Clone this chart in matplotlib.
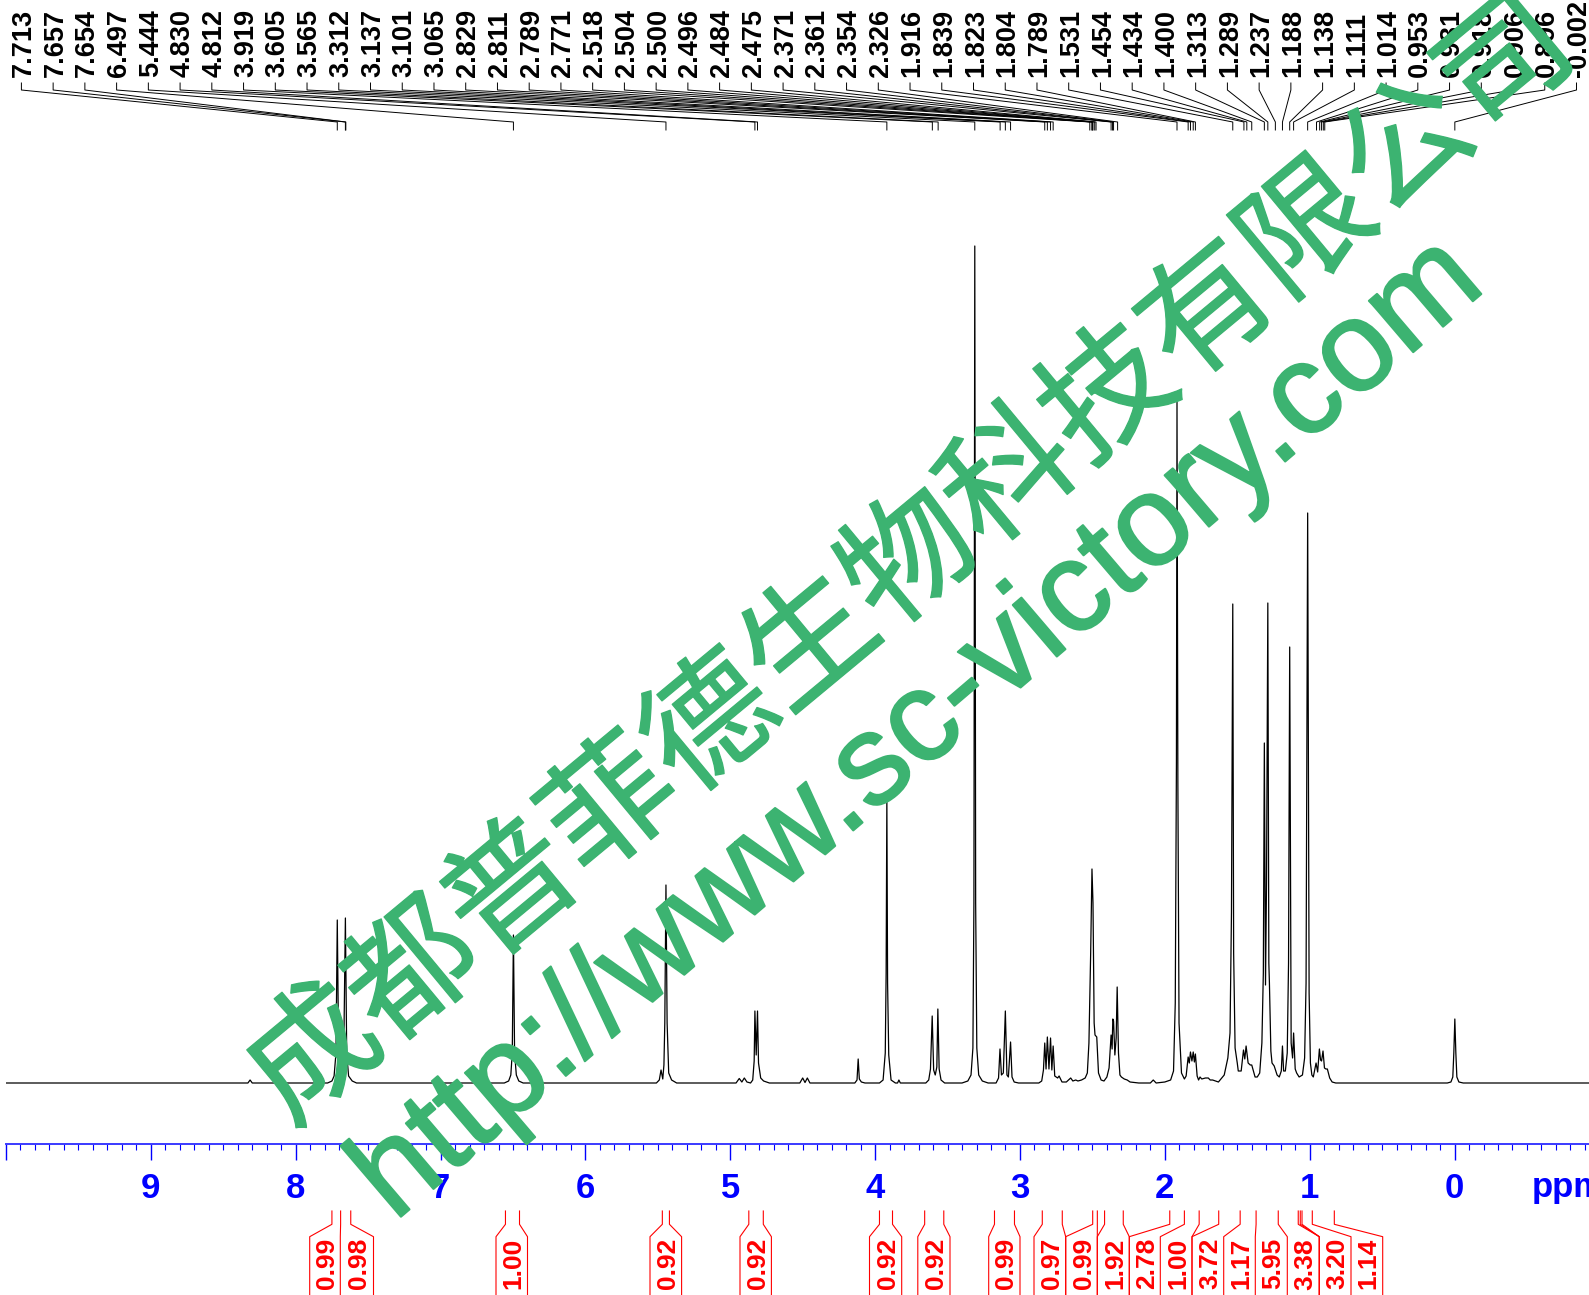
import matplotlib
matplotlib.use("Agg")
import matplotlib.pyplot as plt
import matplotlib.patheffects as pe
import matplotlib.transforms as mtransforms

W, H = 1589, 1295

peak_labels = ["7.713", "7.657", "7.654", "6.497", "5.444", "4.830", "4.812", "3.919", "3.605", "3.565",
               "3.312", "3.137", "3.101", "3.065", "2.829", "2.811", "2.789", "2.771", "2.518", "2.504",
               "2.500", "2.496", "2.484", "2.475", "2.371", "2.361", "2.354", "2.326", "1.916", "1.839",
               "1.823", "1.804", "1.789", "1.531", "1.454", "1.434", "1.400", "1.313", "1.289", "1.237",
               "1.188", "1.138", "1.111", "1.014", "0.953", "0.931", "0.918", "0.906", "0.896", "-0.002"]

# spectrum trace, ppm going downfield to upfield
spectrum_ppm = [10.0, 8.33, 8.315, 8.30, 7.78, 7.75, 7.735, 7.722, 7.713, 7.704, 7.692, 7.68, 7.668, 7.657, 7.648, 7.635,
                7.61, 7.58, 6.56, 6.53, 6.515, 6.505, 6.497, 6.489, 6.477, 6.46, 6.43, 5.51, 5.49, 5.478, 5.466, 5.458,
                5.452, 5.444, 5.436, 5.425, 5.405, 5.37, 4.96, 4.938, 4.92, 4.903, 4.885, 4.86, 4.845, 4.835, 4.83,
                4.821, 4.812, 4.805, 4.79, 4.77, 4.73, 4.52, 4.50, 4.484, 4.468, 4.45, 4.14, 4.125, 4.117, 4.109,
                4.095, 4.07, 3.97, 3.945, 3.93, 3.924, 3.919, 3.914, 3.906, 3.89, 3.86, 3.845, 3.836, 3.826, 3.65,
                3.63, 3.618, 3.606, 3.596, 3.585, 3.574, 3.567, 3.558, 3.545, 3.52, 3.40, 3.36, 3.338, 3.325, 3.318,
                3.312, 3.306, 3.298, 3.285, 3.26, 3.22, 3.165, 3.148, 3.138, 3.128, 3.115, 3.101, 3.09, 3.08, 3.065,
                3.055, 3.04, 3.01, 2.87, 2.85, 2.838, 2.829, 2.82, 2.811, 2.80, 2.789, 2.78, 2.771, 2.76, 2.74, 2.73,
                2.71, 2.68, 2.65, 2.635, 2.615, 2.60, 2.575, 2.55, 2.535, 2.524, 2.512, 2.503, 2.496, 2.488, 2.482,
                2.47, 2.458, 2.44, 2.42, 2.40, 2.385, 2.371, 2.364, 2.359, 2.354, 2.345, 2.336, 2.329, 2.32, 2.31,
                2.30, 2.28, 2.26, 2.24, 2.18, 2.10, 2.08, 2.06, 2.00, 1.96, 1.94, 1.928, 1.92, 1.916, 1.91, 1.902,
                1.885, 1.865, 1.853, 1.845, 1.839, 1.831, 1.823, 1.813, 1.804, 1.796, 1.789, 1.777, 1.767, 1.757,
                1.745, 1.72, 1.70, 1.687, 1.67, 1.63, 1.59, 1.565, 1.55, 1.54, 1.531, 1.525, 1.515, 1.50, 1.493,
                1.473, 1.457, 1.448, 1.439, 1.425, 1.41, 1.40, 1.377, 1.362, 1.345, 1.33, 1.32, 1.313, 1.305, 1.298,
                1.289, 1.282, 1.278, 1.268, 1.26, 1.245, 1.225, 1.21, 1.196, 1.188, 1.18, 1.168, 1.155, 1.146, 1.138,
                1.128, 1.118, 1.111, 1.10, 1.09, 1.073, 1.05, 1.035, 1.025, 1.014, 1.004, 0.995, 0.985, 0.975, 0.956,
                0.945, 0.933, 0.925, 0.918, 0.908, 0.898, 0.888, 0.878, 0.862, 0.845, 0.82, 0.78, 0.05, 0.025, 0.012,
                0.005, -0.002, -0.009, -0.016, -0.03, -0.06, -0.93]
spectrum_height = [0, 0, 3, 0, 0, 2, 7, 30, 163, 35, 10, 12, 35, 165, 30, 7,
                   2, 0, 0, 2, 8, 30, 148, 30, 8, 2, 0, 0, 3, 13, 4, 18,
                   60, 198, 60, 10, 3, 0, 0, 4.5, 1, 5, 1, 0, 3, 22, 72,
                   28, 72, 20, 5, 2, 0, 0, 5, 0.5, 5, 0, 0, 3, 24, 4,
                   1, 0, 0, 3, 30, 110, 285, 100, 28, 3, 0, 0, 3, 0, 0,
                   3, 14, 67, 13, 8, 16, 74, 14, 3, 0, 0, 2, 8, 35, 180,
                   837, 180, 35, 8, 2, 0, 0, 5, 34, 8, 10, 72, 8, 6, 41,
                   6, 1, 0, 0, 2, 13, 40, 14, 46, 14, 45, 13, 37, 7, 5, 7,
                   1, 1, 5, 2, 3, 2, 3, 5, 10, 40, 130, 214, 180, 60, 48,
                   46, 10, 3, 2, 6, 15, 48, 34, 64, 62, 28, 45, 96, 30, 8,
                   6, 4, 3, 1, 0, 0, 3, 0, 1, 3, 12, 80, 320, 683, 300, 60,
                   10, 4, 7, 18, 26, 20, 31, 22, 31, 21, 29, 7, 3, 6, 4,
                   5, 5, 3, 3, 1, 8, 25, 50, 170, 479, 130, 35, 20, 12, 12,
                   33, 24, 37, 20, 18, 18, 6, 6, 10, 40, 110, 340, 98, 200, 480,
                   120, 100, 32, 20, 17, 8, 6, 12, 37, 12, 12, 30, 120, 436,
                   40, 25, 50, 14, 10, 6, 8, 25, 100, 570, 90, 20, 8, 6, 20,
                   11, 34, 23, 22, 32, 15, 14, 14, 5, 1, 0, 0, 0, 1, 6, 30, 64, 30, 6, 1, 0, 0]

major_ticks = [10, 9, 8, 7, 6, 5, 4, 3, 2, 1, 0]
tick_labels = ["", "9", "8", "7", "6", "5", "4", "3", "2", "1", "0"]

integral_values = ["0.99", "0.98", "1.00", "0.92", "0.92", "0.92", "0.92", "0.99", "0.97", "0.99",
                   "1.92", "2.78", "1.00", "3.72", "1.17", "5.95", "3.38", "3.20", "1.14"]
# integral limits on the spectrum, in ppm
integral_bounds = [7.75, 7.69, 7.62, 6.552, 6.455, 5.469, 5.42, 4.872, 4.772, 3.970, 3.880, 3.658, 3.526,
                   3.176, 3.038, 2.846, 2.708, 2.498, 2.466, 2.416, 2.287, 1.966, 1.865, 1.763, 1.628, 1.480,
                   1.370, 1.217, 1.079, 1.065, 1.053, 0.982, 0.830]

# layout: box edges under the ppm axis, and which edge each limit runs to
box_edges = [309.7, 340.3, 373.5, 496, 527.5, 650, 681.6, 740, 771.4, 869.5, 901.7, 917.8, 950, 988.7, 1020,
             1034, 1065.7, 1097.3, 1129.3, 1160.3, 1192, 1223.7, 1255.3, 1287.3, 1319.3, 1351, 1382.7]
box_spans = [(0, 1), (1, 2), (3, 4), (5, 6), (7, 8), (9, 10), (11, 12), (13, 14), (15, 16), (16, 17),
             (17, 18), (18, 19), (19, 20), (20, 21), (21, 22), (22, 23), (23, 24), (24, 25), (25, 26)]
bound_edge = [0, 1, 2, 3, 4, 5, 6, 7, 8, 9, 10, 11, 12, 13, 14, 15, 16, 16, 17, 17, 18, 18, 19, 20, 20, 21, 22,
              23, 24, 24, 24, 25, 26]

plt.rcParams['font.family'] = ['Liberation Sans', 'DejaVu Sans']

fig = plt.figure(figsize=(W / 100, H / 100), dpi=100)
AXIS_Y = 1144
BASE_Y = 1083
ax = fig.add_axes([6 / W, (H - AXIS_Y) / H, (W - 6) / W, AXIS_Y / H])
ax.set_xlim(10.0, (1454.5 - W) / 144.9)
ax.set_ylim(BASE_Y - AXIS_Y, BASE_Y)
for side in ['top', 'left', 'right']:
    ax.spines[side].set_visible(False)
ax.spines['bottom'].set_color('#3a3aff')
ax.spines['bottom'].set_linewidth(1.4)
ax.set_yticks([])

ax.plot(spectrum_ppm, spectrum_height, color='black', linewidth=0.9, zorder=2)

ax.set_xticks(major_ticks)
ax.set_xticklabels(tick_labels, color='#0000ff', fontsize=25, fontweight='bold')
ax.set_xticks([10 - i * 0.1 for i in range(110) if i % 10 != 0], minor=True)
ax.tick_params(axis='x', which='major', direction='out', length=11.5, width=1.0, color='#0000ff', pad=9)
ax.tick_params(axis='x', which='minor', direction='out', length=4, width=0.8, color='#0000ff')

# everything else is placed in picture pixels, y going down
px = mtransforms.Affine2D().scale(1, -1).translate(0, H)


def ppm_to_px(ppm):
    return ax.transData.transform((ppm, 0))[0]


ax.text(1532, 1197, "ppm", transform=px, color='#0000ff', fontsize=25, fontweight='bold',
        va='baseline', ha='left', clip_on=False)

# peak labels and their leaders
n = len(peak_labels)
for i, lab in enumerate(peak_labels):
    x_top = 21.4 + i * (1576.5 - 21.4) / (n - 1)
    x_bot = ppm_to_px(float(lab))
    ax.plot([x_top, x_top, x_bot, x_bot], [83, 90, 122, 130], transform=px, color='black', linewidth=0.7,
            clip_on=False, zorder=1)
    ax.text(x_top + 2.5, 77, lab, transform=px, rotation=90, ha='center', va='bottom', fontsize=19.5,
            fontweight='bold', color='black', clip_on=False, zorder=1)

# integrals
for ppm, e in zip(integral_bounds, bound_edge):
    x = ppm_to_px(ppm)
    xe = box_edges[e]
    ax.plot([x, x, xe, xe], [1211, 1224.3, 1236.7, H + 5], transform=px, color='#ff0000', linewidth=0.8,
            clip_on=False, zorder=1)
for val, (a, b) in zip(integral_values, box_spans):
    xc = (box_edges[a] + box_edges[b]) / 2
    ax.text(xc + 2, 1238, val, transform=px, rotation=90, ha='center', va='top', fontsize=19,
            fontweight='bold', color='#ff0000', clip_on=False, zorder=1)

# watermark over the spectrum
ax.text(912, 563, "成都普菲德生物科技有限公司", transform=px, rotation=39.7, rotation_mode='anchor',
        ha='center', va='center', fontsize=93, color='#3cb371', family=['Noto Sans CJK SC', 'DejaVu Sans'],
        clip_on=False, zorder=5, path_effects=[pe.withStroke(linewidth=1, foreground='#3cb371')])
ax.text(920, 730, "http://www.sc-victory.com", transform=px, rotation=40.5, rotation_mode='anchor',
        ha='center', va='center', fontsize=92.4, color='#3cb371', clip_on=False, zorder=5,
        path_effects=[pe.withStroke(linewidth=1.5, foreground='#3cb371')])

fig.savefig("out.png", dpi=100)
